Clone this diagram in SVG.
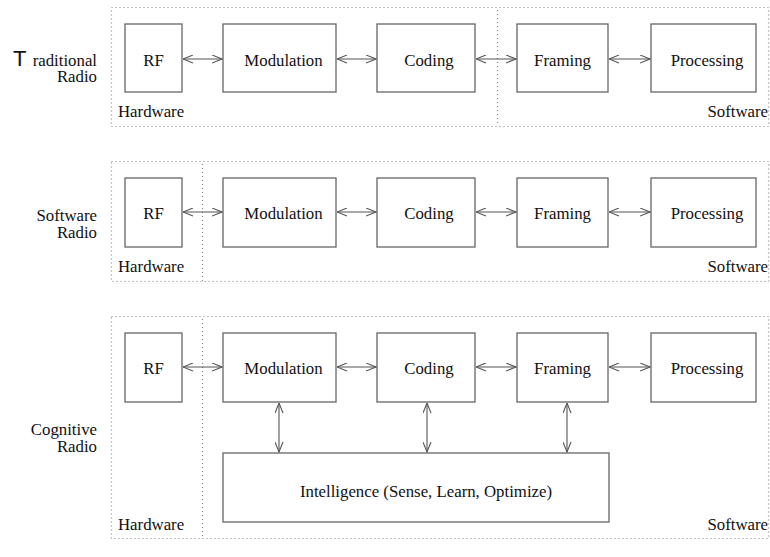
<svg xmlns="http://www.w3.org/2000/svg" width="770" height="557" viewBox="0 0 770 557" font-family="'Liberation Serif', serif" font-size="16.8">
  <style>
    .zone { fill: none; stroke: #888; stroke-width: 1.2; stroke-dasharray: 1 3; }
    .box { fill: #fff; stroke: #666; stroke-width: 1.3; }
    .lbl { fill: #111; }
    .mid { text-anchor: middle; }
    .end { text-anchor: end; }
    .link { stroke: #555; stroke-width: 1.1; fill: none; marker-start: url(#tip); marker-end: url(#tip); }
  </style>
  <defs>
    <marker id="tip" viewBox="0 0 11 9" refX="10.5" refY="4.5" markerWidth="11" markerHeight="9" markerUnits="userSpaceOnUse" orient="auto-start-reverse">
      <path d="M0.5,0.5 L10.5,4.5 L0.5,8.5" fill="none" stroke="#555" stroke-width="1.1"/>
    </marker>
  </defs>
  <rect width="770" height="557" fill="#fff"/>

  <!-- Row 1: traditional radio -->
  <g id="traditional">
    <rect class="zone" x="111.5" y="7.5" width="657" height="119"/>
    <line class="zone" x1="497.5" y1="10" x2="497.5" y2="126"/>
    <text x="13" y="66" font-family="'Liberation Sans', Arial, sans-serif" font-size="22" fill="#111">T</text>
    <text class="lbl end" x="97" y="66">raditional</text>
    <text class="lbl end" x="97" y="82">Radio</text>
    <text class="lbl" x="118" y="117">Hardware</text>
    <text class="lbl end" x="768" y="117">Software</text>
  </g>
  <g id="t-rf"><rect class="box" x="125" y="24" width="57" height="68"/><text class="lbl mid" x="153.5" y="66">RF</text></g>
  <g id="t-mod"><rect class="box" x="223" y="24" width="113" height="68"/><text class="lbl mid" x="283.5" y="66">Modulation</text></g>
  <g id="t-cod"><rect class="box" x="377" y="24" width="98" height="68"/><text class="lbl mid" x="429" y="66">Coding</text></g>
  <g id="t-frm"><rect class="box" x="517" y="24" width="91" height="68"/><text class="lbl mid" x="562.5" y="66">Framing</text></g>
  <g id="t-prc"><rect class="box" x="651" y="24" width="105" height="68"/><text class="lbl mid" x="707" y="66">Processing</text></g>

  <!-- Row 2: software radio -->
  <g id="software">
    <rect class="zone" x="111.5" y="161.5" width="657" height="120"/>
    <line class="zone" x1="202.5" y1="164" x2="202.5" y2="281"/>
    <text class="lbl end" x="97" y="221">Software</text>
    <text class="lbl end" x="97" y="238">Radio</text>
    <text class="lbl" x="118" y="272">Hardware</text>
    <text class="lbl end" x="768" y="272">Software</text>
  </g>
  <g id="s-rf"><rect class="box" x="125" y="178" width="57" height="69"/><text class="lbl mid" x="153.5" y="219">RF</text></g>
  <g id="s-mod"><rect class="box" x="223" y="178" width="113" height="69"/><text class="lbl mid" x="283.5" y="219">Modulation</text></g>
  <g id="s-cod"><rect class="box" x="377" y="178" width="98" height="69"/><text class="lbl mid" x="429" y="219">Coding</text></g>
  <g id="s-frm"><rect class="box" x="517" y="178" width="91" height="69"/><text class="lbl mid" x="562.5" y="219">Framing</text></g>
  <g id="s-prc"><rect class="box" x="651" y="178" width="105" height="69"/><text class="lbl mid" x="707" y="219">Processing</text></g>

  <!-- Row 3: cognitive radio -->
  <g id="cognitive">
    <rect class="zone" x="111.5" y="316.5" width="657" height="222"/>
    <line class="zone" x1="202.5" y1="319" x2="202.5" y2="538"/>
    <text class="lbl end" x="97" y="435">Cognitive</text>
    <text class="lbl end" x="97" y="452">Radio</text>
    <text class="lbl" x="118" y="530">Hardware</text>
    <text class="lbl end" x="768" y="530">Software</text>
  </g>
  <g id="c-rf"><rect class="box" x="125" y="333" width="57" height="69"/><text class="lbl mid" x="153.5" y="374">RF</text></g>
  <g id="c-mod"><rect class="box" x="223" y="333" width="113" height="69"/><text class="lbl mid" x="283.5" y="374">Modulation</text></g>
  <g id="c-cod"><rect class="box" x="377" y="333" width="98" height="69"/><text class="lbl mid" x="429" y="374">Coding</text></g>
  <g id="c-frm"><rect class="box" x="517" y="333" width="91" height="69"/><text class="lbl mid" x="562.5" y="374">Framing</text></g>
  <g id="c-prc"><rect class="box" x="651" y="333" width="105" height="69"/><text class="lbl mid" x="707" y="374">Processing</text></g>
  <g id="c-int"><rect class="box" x="223" y="453" width="386" height="69"/><text class="lbl mid" x="426" y="497">Intelligence (Sense, Learn, Optimize)</text></g>

  <!-- connectors -->
  <g id="connectors">
    <line class="link" x1="183" y1="59" x2="222" y2="59"/>
    <line class="link" x1="337" y1="59" x2="376" y2="59"/>
    <line class="link" x1="476" y1="59" x2="516" y2="59"/>
    <line class="link" x1="609" y1="59" x2="650" y2="59"/>

    <line class="link" x1="183" y1="212" x2="222" y2="212"/>
    <line class="link" x1="337" y1="212" x2="376" y2="212"/>
    <line class="link" x1="476" y1="212" x2="516" y2="212"/>
    <line class="link" x1="609" y1="212" x2="650" y2="212"/>

    <line class="link" x1="183" y1="367" x2="222" y2="367"/>
    <line class="link" x1="337" y1="367" x2="376" y2="367"/>
    <line class="link" x1="476" y1="367" x2="516" y2="367"/>
    <line class="link" x1="609" y1="367" x2="650" y2="367"/>

    <line class="link" x1="279" y1="403" x2="279" y2="452"/>
    <line class="link" x1="427" y1="403" x2="427" y2="452"/>
    <line class="link" x1="567" y1="403" x2="567" y2="452"/>
  </g>
</svg>
